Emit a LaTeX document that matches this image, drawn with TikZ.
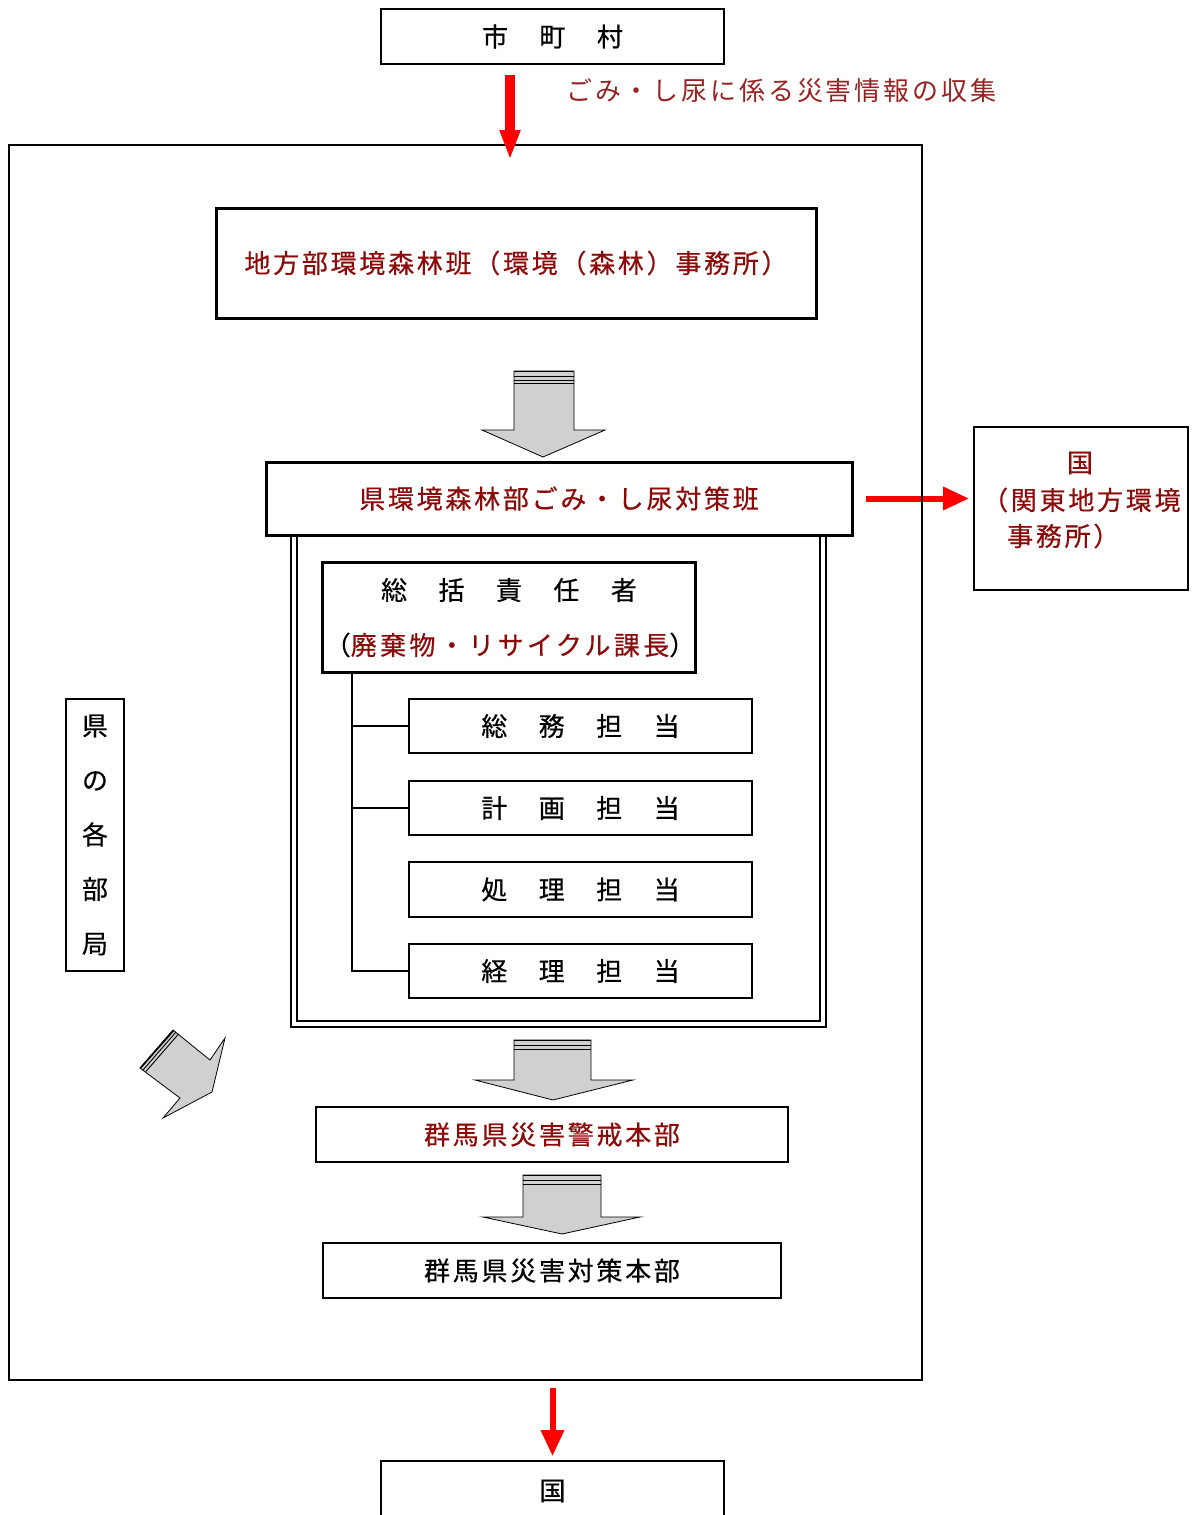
\documentclass[tikz,border=0pt]{standalone}
\usepackage{fontspec}
\setmainfont{Noto Sans CJK JP}[LetterSpace=10.5, FakeBold=0.5]
\newfontfamily\lblfont{Noto Sans CJK JP}[LetterSpace=11]
\usetikzlibrary{arrows.meta}
\definecolor{dred}{RGB}{139,10,10}
\definecolor{lred}{RGB}{150,35,35}
\definecolor{arrred}{RGB}{255,0,0}
\definecolor{bgray}{RGB}{208,208,208}
\begin{document}
\begin{tikzpicture}[x=1pt,y=-1pt,
  every node/.style={font=\fontsize{26}{30}\selectfont, inner sep=0pt},
  thinbox/.style={draw, line width=1.6pt},
  thickbox/.style={draw, line width=3pt},
  framebox/.style={draw, line width=1.3pt},
  redbig/.style={draw=arrred, line width=10pt, -{Triangle[length=30pt,width=19pt]}},
  redsmall/.style={draw=arrred, line width=6pt, -{Triangle[length=26pt,width=22pt]}},
  blockarrow/.style={draw=black, line width=0.8pt, fill=bgray, line join=miter},
  stripe/.style={draw=black, line width=0.9pt},
  treeline/.style={draw=black, line width=1.6pt},
]
\useasboundingbox (0,0) rectangle (1195,1515);
\clip (0,0) rectangle (1195,1515);

% top box and label
\node[thinbox, minimum width=343pt, minimum height=55pt] (scm) at (552.5,36.5) {市　町　村};
\node[text=lred, anchor=west, font=\lblfont\fontsize{26}{30}\selectfont] (lbl) at (566,91) {ごみ・し尿に係る災害情報の収集};

% right box (national)
\node[thinbox, minimum width=214pt, minimum height=163pt] (kuniR) at (1081,508.5) {};
\node[text=dred] (kr1) at (1080,463) {国};
\node[text=dred, anchor=west] (kr2) at (982,500) {（関東地方環境};
\node[text=dred, anchor=west] (kr3) at (1007,536) {事務所）};

% prefecture team box
\node[thickbox, minimum width=586pt, minimum height=73pt] (kenhan) at (559,498.5) {\textcolor{dred}{県環境森林部ごみ・し尿対策班}};

% red arrow to the right (under the frame line)
\draw[redsmall, shorten <=12pt, shorten >=4pt] (kenhan.east) -- (kenhan.east -| kuniR.west);

% big frame
\node[framebox, minimum width=913pt, minimum height=1235pt] (frame) at (465.5,762.5) {};

% top red arrow
\coordinate (t1e) at (510,160);
\draw[redbig, shorten <=10pt] (scm.south -| t1e) -- (t1e);

% regional office box
\node[thickbox, minimum width=600pt, minimum height=110pt] (chiho) at (516,263) {\textcolor{dred}{地方部環境森林班（環境（森林）事務所）}};

% block arrow 1
\draw[blockarrow] (514,371) -- (574,371) -- (574,430) -- (605,430) -- (543,457) -- (482,430) -- (514,430) -- cycle;
\draw[stripe, line width=1.6pt] (514,371.5) -- (574,371.5);
\draw[stripe] (514,376) -- (574,376);
\draw[stripe] (514,380) -- (574,380);
\draw[stripe] (514,383.5) -- (574,383.5);

% double frame under prefecture team box
\draw[framebox] (291,535) |- (826,1027) -- (826,535);
\draw[framebox] (297,535) |- (820,1021) -- (820,535);

% chief box
\node[thickbox, minimum width=373pt, minimum height=110pt] (sok) at (508.5,617) {};
\node (sok1) at (509,590) {総　括　責　任　者};
\node[font=\fontsize{26}{30}\selectfont\addfontfeature{LetterSpace=13}] (sok2) at (510,645) {（\textcolor{dred}{廃棄物・リサイクル課長}）};

% sub boxes
\node[thinbox, minimum width=343pt, minimum height=54pt] (b1) at (580.5,726) {総　務　担　当};
\node[thinbox, minimum width=343pt, minimum height=54pt] (b2) at (580.5,808) {計　画　担　当};
\node[thinbox, minimum width=343pt, minimum height=55pt] (b3) at (580.5,889.5) {処　理　担　当};
\node[thinbox, minimum width=343pt, minimum height=54pt] (b4) at (580.5,971) {経　理　担　当};

% tree
\coordinate (tt) at (352,672);
\draw[treeline] (tt) |- (b4.west);
\draw[treeline] (tt |- b1.west) -- (b1.west);
\draw[treeline] (tt |- b2.west) -- (b2.west);

% prefecture departments box
\node[thinbox, minimum width=58pt, minimum height=272pt, align=center, font=\fontsize{26}{54.5}\selectfont] (kakubu) at (95,835) {県\\の\\各\\部\\局};

% diagonal block arrow
\draw[blockarrow] (140,1068) -- (173,1030) -- (210,1060) -- (225,1038) -- (212,1092) -- (163,1118) -- (180,1098) -- cycle;
\draw[stripe, line width=1.6pt] (140.5,1068) -- (173.5,1030.5);
\draw[stripe] (143.2,1069.8) -- (176.1,1031.9);
\draw[stripe] (145.8,1071.6) -- (178.7,1033.8);

% block arrow 2
\draw[blockarrow] (514,1040) -- (591,1040) -- (591,1080) -- (633,1080) -- (553,1100) -- (475,1080) -- (514,1080) -- cycle;
\draw[stripe, line width=1.8pt] (514,1040.5) -- (591,1040.5);
\draw[stripe] (514,1045) -- (591,1045);
\draw[stripe] (514,1049) -- (591,1049);

% alert HQ
\node[thinbox, minimum width=472pt, minimum height=55pt] (keikai) at (552,1134.5) {\textcolor{dred}{群馬県災害警戒本部}};

% block arrow 3
\draw[blockarrow] (523,1175) -- (601,1175) -- (601,1217) -- (640,1217) -- (562,1234) -- (483,1217) -- (523,1217) -- cycle;
\draw[stripe, line width=1.8pt] (523,1175.5) -- (601,1175.5);
\draw[stripe] (523,1180) -- (601,1180);
\draw[stripe] (523,1184) -- (601,1184);

% disaster HQ
\node[thinbox, minimum width=458pt, minimum height=55pt] (taisaku) at (552,1270.5) {群馬県災害対策本部};

% bottom national box
\node[thinbox, minimum width=343pt, minimum height=60pt] (kuniB) at (552.5,1491) {国};
\draw[redsmall, shorten <=7pt, shorten >=4pt] (kuniB.north |- frame.south) -- (kuniB.north);
\end{tikzpicture}
\end{document}
